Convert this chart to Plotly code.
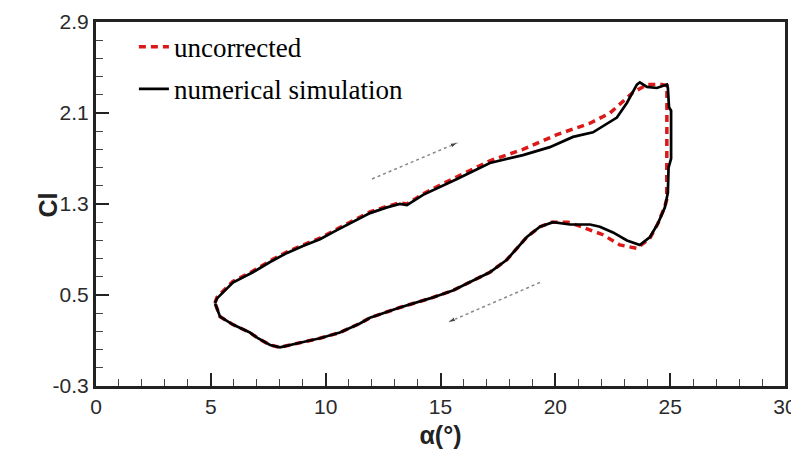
import plotly.graph_objects as go

# ---------------- data ----------------
sim_alpha = [5.18, 5.27, 5.96, 6.83, 7.58, 8.32, 9.01, 9.75, 10.49, 11.19, 11.93, 12.67, 13.23, 13.54,
             14.24, 15.72, 17.15, 18.59, 19.76, 20.77, 21.64, 22.68, 23.12, 23.55, 23.68, 23.99, 24.42,
             24.86, 24.90, 24.95, 25.04, 25.04, 24.93, 24.90, 24.77, 24.47, 24.12, 23.68, 23.12, 22.51,
             21.94, 21.51, 20.64, 19.90, 19.33, 18.76, 18.15, 17.89, 17.15, 16.28, 15.54, 14.54, 13.23,
             11.93, 11.49, 10.62, 9.75, 8.88, 8.01, 7.58, 7.05, 6.70, 5.96, 5.40, 5.18]
sim_cl = [0.43, 0.47, 0.61, 0.70, 0.79, 0.87, 0.93, 0.99, 1.07, 1.14, 1.22, 1.27, 1.30, 1.29,
          1.38, 1.52, 1.66, 1.73, 1.80, 1.89, 1.93, 2.06, 2.19, 2.35, 2.37, 2.33, 2.32,
          2.35, 2.32, 2.15, 2.12, 1.70, 1.62, 1.40, 1.27, 1.13, 1.01, 0.94, 0.98, 1.05,
          1.10, 1.12, 1.12, 1.14, 1.10, 1.01, 0.87, 0.81, 0.70, 0.61, 0.54, 0.47, 0.39,
          0.30, 0.25, 0.17, 0.12, 0.08, 0.04, 0.06, 0.12, 0.17, 0.24, 0.31, 0.43]

unc_alpha = [5.18, 5.27, 5.96, 6.83, 7.58, 8.32, 9.01, 9.75, 10.49, 11.19, 11.93, 12.67, 13.23, 13.54,
             14.24, 15.72, 17.15, 18.59, 20.07, 21.51, 22.38, 23.38, 24.00, 24.34, 24.64, 24.86,
             24.85, 24.77, 24.47, 24.12, 23.55, 22.81, 22.07, 21.00, 20.55, 19.85, 19.33, 18.76,
             18.15, 17.89, 17.15, 16.28, 15.54, 14.54, 13.23, 11.93, 11.49, 10.62, 9.75, 8.88,
             8.01, 7.58, 7.05, 6.70, 5.96, 5.40, 5.18]
unc_cl = [0.43, 0.48, 0.62, 0.71, 0.80, 0.88, 0.94, 1.00, 1.08, 1.15, 1.23, 1.28, 1.31, 1.30,
          1.39, 1.54, 1.68, 1.78, 1.91, 2.01, 2.10, 2.28, 2.35, 2.35, 2.35, 2.34,
          1.34, 1.28, 1.13, 1.00, 0.91, 0.94, 1.03, 1.11, 1.14, 1.14, 1.10, 1.01,
          0.87, 0.81, 0.70, 0.61, 0.54, 0.47, 0.39, 0.30, 0.25, 0.17, 0.12, 0.08,
          0.04, 0.06, 0.12, 0.17, 0.24, 0.31, 0.43]

arrow_up_alpha = [12.02, 15.76]
arrow_up_cl = [1.52, 1.84]
arrow_down_alpha = [19.33, 15.32]
arrow_down_cl = [0.61, 0.26]

x_ticks = [0, 5, 10, 15, 20, 25, 30]
y_ticks = [-0.3, 0.5, 1.3, 2.1, 2.9]

# ---------------- figure ----------------
fig = go.Figure()

fig.add_trace(go.Scatter(
    x=unc_alpha, y=unc_cl, mode="lines", name="uncorrected",
    line=dict(color="rgb(220,25,25)", width=3.5, dash="7px,5px"),
    legendgroup="a"))
fig.add_trace(go.Scatter(
    x=sim_alpha, y=sim_cl, mode="lines", name="numerical simulation",
    line=dict(color="black", width=2.7),
    legendgroup="b"))

for ax, ay in [(arrow_up_alpha, arrow_up_cl), (arrow_down_alpha, arrow_down_cl)]:
    fig.add_trace(go.Scatter(
        x=ax, y=ay, mode="lines", showlegend=False, hoverinfo="skip",
        line=dict(color="#888888", width=1.5, dash="dot")))
    fig.add_trace(go.Scatter(
        x=ax, y=ay, mode="markers", showlegend=False, hoverinfo="skip",
        marker=dict(symbol="arrow", angleref="previous", size=[0, 8], color="black")))

tick_font = dict(family="Liberation Sans, Arial, sans-serif", size=21, color="#2a2a2a")
title_font = dict(family="Liberation Sans, Arial, sans-serif", size=25, color="#222222")

# the page body has an 8px margin: figure is sized/placed so the plot area lands
# at x 96..785, y 22..386 of the 799x461 window
fig.update_layout(
    width=791, height=453,
    margin=dict(l=88, r=14, t=14, b=75),
    paper_bgcolor="white", plot_bgcolor="white",
    showlegend=True,
    legend=dict(x=0.055, y=0.998, xanchor="left", yanchor="top",
                bgcolor="rgba(0,0,0,0)", traceorder="grouped", tracegroupgap=4,
                font=dict(family="Liberation Serif, Times New Roman, serif", size=27, color="black")),
    xaxis=dict(
        range=[0, 30], tickvals=x_ticks, ticktext=[str(v) for v in x_ticks],
        showgrid=False, zeroline=False, automargin=False,
        showline=True, linecolor="#222222", linewidth=3, mirror=True,
        ticks="inside", ticklen=13, tickwidth=2, tickcolor="#222222",
        minor=dict(dtick=1, tick0=0, ticks="inside", ticklen=7, tickwidth=1, tickcolor="#444444"),
        tickfont=tick_font,
        title=dict(text="<b>α(°)</b>", font=title_font, standoff=10),
    ),
    yaxis=dict(
        range=[-0.3, 2.9], tickvals=y_ticks, ticktext=[f"{v:.1f}" for v in y_ticks],
        showgrid=False, zeroline=False, automargin=False,
        showline=True, linecolor="#222222", linewidth=3, mirror=True,
        ticks="inside", ticklen=13, tickwidth=2, tickcolor="#222222",
        minor=dict(dtick=0.16, tick0=-0.3, ticks="inside", ticklen=7, tickwidth=1, tickcolor="#444444"),
        tickfont=tick_font,
    ),
    annotations=[dict(text="<b>Cl</b>", xref="paper", yref="paper", x=-0.069, y=0.497,
                      xanchor="center", yanchor="middle", textangle=-90, showarrow=False,
                      font=title_font)],
)

fig.write_html("out.html")
